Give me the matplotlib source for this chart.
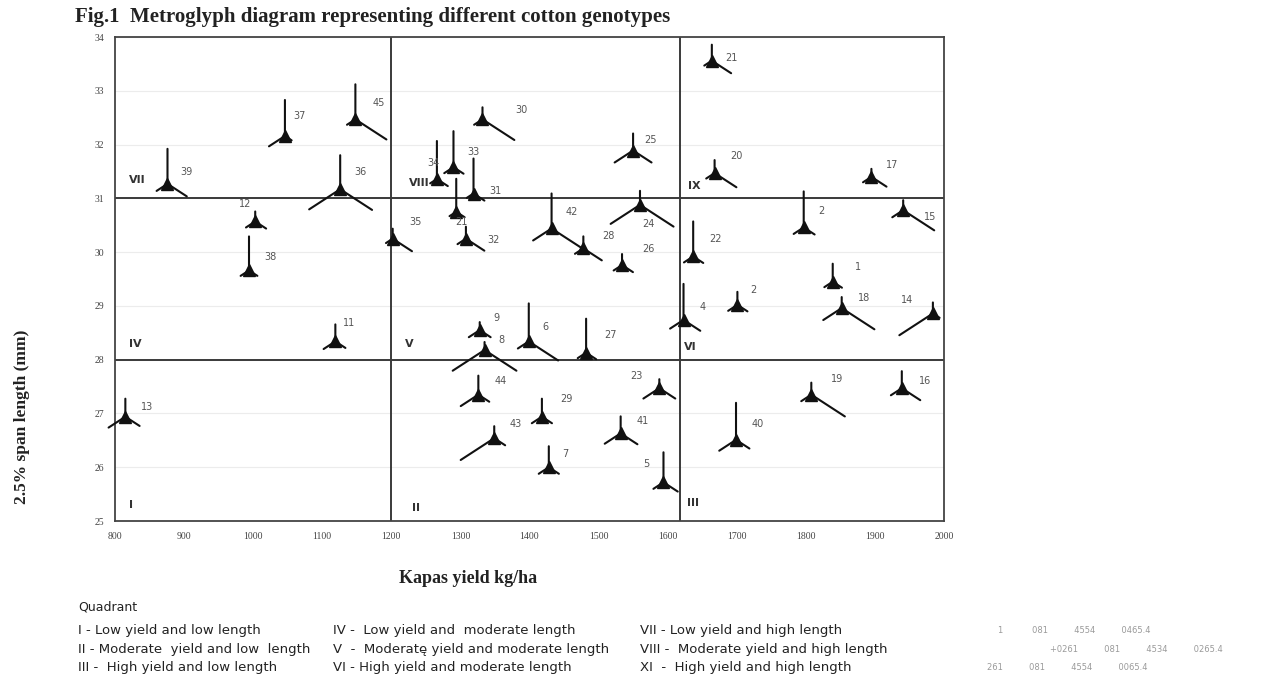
import numpy as np
import matplotlib
matplotlib.use('Agg')
import matplotlib.pyplot as plt

# genotype glyphs: yield, span length, ray lengths (up, left, right)
genotype = ['37', '45', '39', '36', '12', '38', '30', '25', '34', '33', '31', '21', '32', '35', '42',
            '28', '26', '24', '21', '20', '17', '2', '15', '22', '1', '4', '2', '18', '14', '19',
            '16', '40', '9', '8', '6', '27', '44', '29', '43', '7', '23', '41', '5', '11', '13']
kapas = [1046, 1148, 876, 1126, 1003, 994, 1332, 1550, 1266, 1290, 1319, 1294, 1308, 1202, 1432,
         1478, 1534, 1560, 1664, 1668, 1895, 1797, 1941, 1637, 1839, 1623, 1701, 1852, 1984, 1808,
         1939, 1699, 1328, 1335, 1399, 1482, 1326, 1418, 1349, 1428, 1588, 1532, 1594, 1119, 815]
span = [32.16, 32.47, 31.27, 31.17, 30.57, 29.66, 32.47, 31.89, 31.36, 31.58, 31.09, 30.75, 30.25, 30.25, 30.44,
        30.07, 29.76, 30.88, 33.56, 31.47, 31.40, 30.46, 30.78, 29.92, 29.45, 28.74, 29.02, 28.96, 28.86, 27.35,
        27.47, 26.51, 28.55, 28.18, 28.34, 28.13, 27.35, 26.94, 26.54, 26.00, 27.47, 26.63, 25.72, 28.34, 26.94]
ray_up = [36, 35, 35, 34, 10, 34, 12, 17, 38, 36, 35, 33, 12, 10, 35,
          12, 11, 14, 16, 13, 8, 36, 10, 35, 18, 36, 13, 11, 11, 12,
          17, 37, 8, 8, 38, 34, 19, 18, 12, 21, 9, 17, 30, 17, 18]
ray_left = [19, 10, 13, 37, 11, 10, 10, 22, 8, 11, 8, 8, 10, 8, 22,
            10, 10, 35, 9, 10, 10, 12, 13, 11, 10, 16, 11, 22, 40, 12,
            13, 20, 13, 38, 13, 10, 21, 12, 40, 12, 19, 19, 12, 14, 20]
ray_right = [8, 37, 23, 38, 13, 10, 38, 22, 13, 12, 13, 10, 22, 23, 36,
             22, 13, 40, 23, 26, 18, 13, 37, 12, 11, 20, 12, 39, 8, 40,
             22, 16, 13, 38, 35, 12, 13, 12, 13, 12, 19, 20, 17, 12, 17]
# where each number sits next to its glyph (pixels, right / up)
lab_dx = [15, 23, 19, 20, -10, 21, 39, 17, -3, 20, 22, 5, 28, 23, 20,
          25, 26, 8, 20, 22, 21, 18, 27, 22, 25, 19, 16, 22, -26, 26,
          23, 22, 17, 17, 17, 24, 22, 25, 21, 17, -23, 22, -17, 14, 22]
lab_dy = [20, 16, 12, 17, 17, 13, 9, 11, 16, 15, 3, -10, -1, 17, 16,
          12, 16, -19, 3, 17, 12, 16, -7, 17, 15, 13, 15, 10, 13, 16,
          7, 16, 12, 10, 14, 18, 14, 18, 14, 13, 12, 12, 18, 18, 10]

quad_names = ['I', 'II', 'III', 'IV', 'V', 'VI', 'VII', 'VIII', 'IX']
quad_x = [820, 1230, 1628, 820, 1220, 1624, 820, 1225, 1630]
quad_y = [25.2, 25.15, 25.25, 28.2, 28.2, 28.15, 31.25, 31.2, 31.13]

legend_col1 = ['I - Low yield and low length', 'II - Moderate  yield and low  length', 'III -  High yield and low length']
legend_col2 = ['IV -  Low yield and  moderate length', 'V  -  Moderatę yield and moderate length', 'VI - High yield and moderate length']
legend_col3 = ['VII - Low yield and high length', 'VIII -  Moderate yield and high length', 'XI  -  High yield and high length']

fig = plt.figure(figsize=(12.65, 6.77), dpi=100)
ax = fig.add_axes([0.0909, 0.2304, 0.6553, 0.7149])
ax.set_xlim(800, 2000)
ax.set_ylim(25, 34)
ax.set_xticks(np.arange(800, 2001, 100))
ax.set_yticks(np.arange(25, 35, 1))
ax.tick_params(length=0, labelsize=7, labelcolor='#444444', pad=8)
for t in ax.get_xticklabels() + ax.get_yticklabels():
    t.set_family('Liberation Serif')
for sp in ax.spines.values():
    sp.set_color('#444444')
    sp.set_linewidth(1.3)
ax.grid(axis='y', color='#ececec', lw=0.8)
ax.set_axisbelow(True)

# quadrant division lines
for yv in [28, 31]:
    ax.axhline(yv, color='#3a3a3a', lw=1.4)
for xv in [1200, 1618]:
    ax.axvline(xv, color='#3a3a3a', lw=1.4)

ang = np.radians(33)
for i in range(len(genotype)):
    x, y = kapas[i], span[i]
    rays = [(0, ray_up[i]),
            (-ray_left[i] * np.cos(ang), -ray_left[i] * np.sin(ang)),
            (ray_right[i] * np.cos(ang), -ray_right[i] * np.sin(ang))]
    for dx, dy in rays:
        ax.annotate('', xy=(x, y), xytext=(dx, dy), textcoords='offset pixels',
                    arrowprops=dict(arrowstyle='-', color='#111111', lw=1.5, shrinkA=0, shrinkB=0))
    ax.annotate(genotype[i], xy=(x, y), xytext=(lab_dx[i], lab_dy[i]), textcoords='offset pixels',
                ha='center', va='center', fontsize=7, color='#555555')
ax.plot(kapas, span, '^', color='#111111', ms=8, mec='#111111')

for q, qx, qy in zip(quad_names, quad_x, quad_y):
    ax.text(qx, qy, q, fontsize=8, fontweight='bold', color='#333333', ha='left', va='bottom')

fig.text(0.059, 0.975, 'Fig.1  Metroglyph diagram representing different cotton genotypes',
         family='Liberation Serif', fontweight='bold', fontsize=15, va='center', color='#222222')
fig.text(0.37, 0.146, 'Kapas yield kg/ha', family='Liberation Serif', fontweight='bold',
         fontsize=13, ha='center', va='center', color='#222222')
fig.text(0.017, 0.385, '2.5% span length (mm)', family='Liberation Serif', fontweight='bold',
         fontsize=12.5, rotation=90, ha='center', va='center', color='#222222')

# quadrant key
fig.text(0.062, 0.104, 'Quadrant', family=['Liberation Sans Narrow', 'DejaVu Sans'], fontsize=9, color='#222222', va='center')
rows_y = [0.069, 0.041, 0.014]
for col, cx in zip([legend_col1, legend_col2, legend_col3], [0.062, 0.263, 0.506]):
    for s, ry in zip(col, rows_y):
        fig.text(cx, ry, s, family=['Liberation Sans Narrow', 'DejaVu Sans'], fontsize=9.5,
                 color='#222222', va='center')

# faint key at lower right (barely legible in the scan)
fig.text(0.789, 0.069, '1           081          4554          0465.4', fontsize=6, color='#9a9a9a', va='center')
fig.text(0.830, 0.041, '+0261          081          4534          0265.4', fontsize=6, color='#9a9a9a', va='center')
fig.text(0.780, 0.014, '261          081          4554          0065.4', fontsize=6, color='#9a9a9a', va='center')

plt.savefig('out.png', dpi=100)
